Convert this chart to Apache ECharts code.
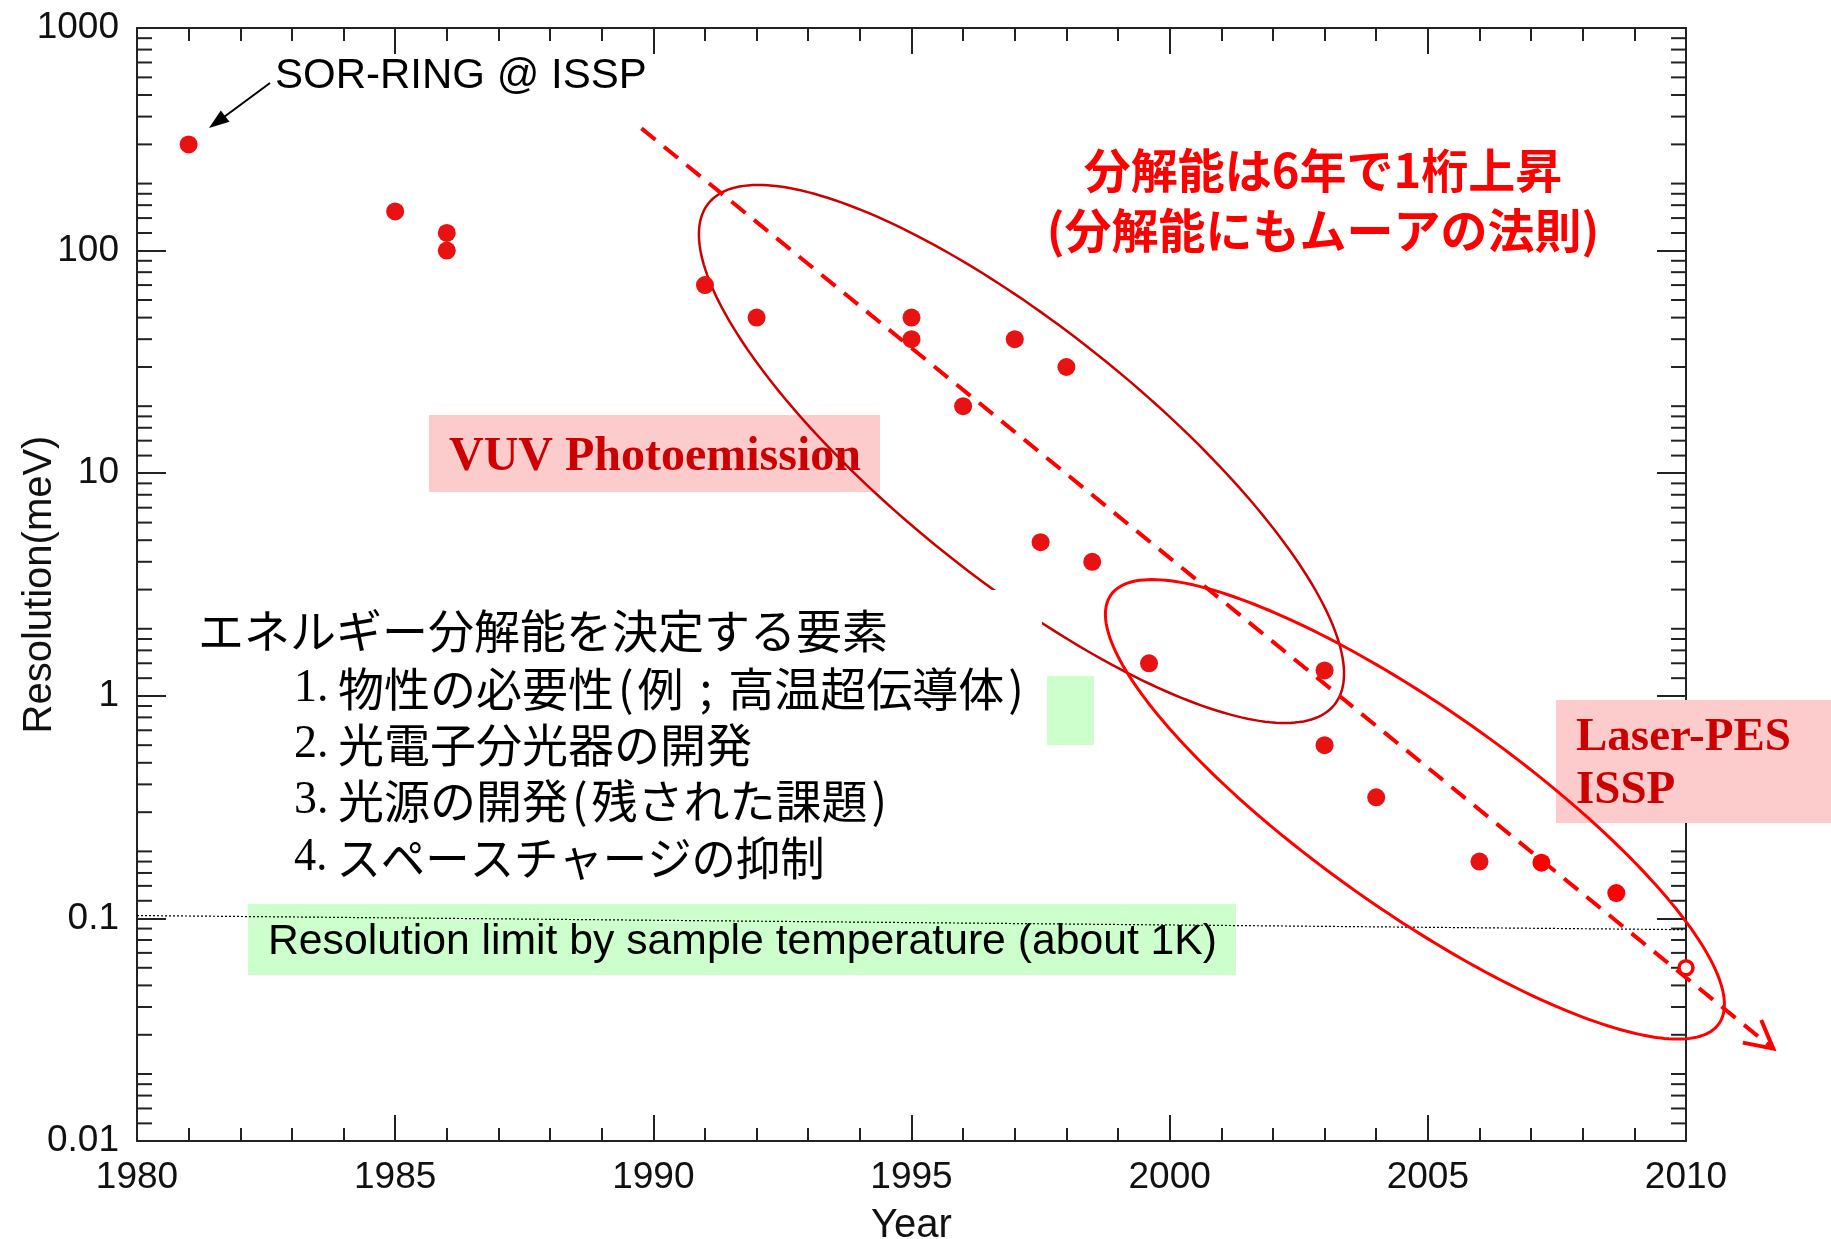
<!DOCTYPE html>
<html><head><meta charset="utf-8">
<script src="https://cdn.jsdelivr.net/npm/echarts@6/dist/echarts.min.js"></script>
<style>html,body{margin:0;padding:0;background:#fff}#c{width:1831px;height:1239px}</style>
</head><body><div id="c"></div>
<script>
// ---- data ----
const years      = [1981, 1985, 1986, 1986, 1991, 1992, 1995, 1995, 1996, 1997, 1997.5, 1998, 1998.5, 1999.6, 2003, 2003, 2004, 2006];
const resolution = [300,  150,  120,  100,  70,   50,   50,   40,   20,   40,   4.9,    30,   4,      1.4,    1.3,  0.6,  0.35, 0.18];
const laserYears = [2007.2, 2008.65];
const laserRes   = [0.178, 0.13];
const futureYears = [2010];
const futureRes   = [0.06];
const trendYears = [1989.77, 2011.69];
const trendRes   = [354, 0.026];
const limitYears = [1980, 2010];
const limitRes   = [0.103, 0.089];
const ellipseCenterYears = [1997.13, 2004.75];
const ellipseCenterRes   = [12.2, 0.309];
const xTickYears = [1980, 1985, 1990, 1995, 2000, 2005, 2010];
const yTickLabels = ['0.01', '0.1', '1', '10', '100', '1000'];
const minorFactors = [1.2, 1.4, 1.6, 1.8, 2, 3, 4, 5, 6, 7, 8, 9];
const minorDecades = [0.01, 0.1, 1, 10, 100];

// ---- styles ----
const ellipseStyles = [
  {a: 401, b: 125, rot: 38.7, color: '#cc0000', width: 2.5},
  {a: 372, b: 101, rot: 35.2, color: '#ff0000', width: 3}
];
const sans = '"Liberation Sans", Arial, sans-serif';
const serif = '"Liberation Serif", "Times New Roman", serif';
const cjk = '"Noto Sans CJK JP", sans-serif';

const yMinor = [];
minorDecades.forEach(d => minorFactors.forEach(f => yMinor.push([1980, +(d * f).toPrecision(3)])));

const chart = echarts.init(document.getElementById('c'), null, {renderer: 'canvas'});

function txt(text, x, y, size, color, family, weight, align, z, rich, sx) {
  const st = {text, x, y, fontSize: size, fontFamily: family, fontWeight: weight || 'normal',
    fill: color, align: align || 'left', verticalAlign: 'middle', textAlign: align || 'left', textVerticalAlign: 'middle'};
  if (rich) st.rich = rich;
  const el = {type: 'text', z: z, style: st, silent: true};
  if (sx) { el.scaleX = sx; el.originX = x; el.originY = y; }
  return el;
}
function box(x, y, w, h, color, z) {
  return {type: 'rect', z: z, shape: {x, y, width: w, height: h}, style: {fill: color}, silent: true};
}
const listRich = {
  n: {fontFamily: serif, fontSize: 46, fill: '#000', width: 44},
  p: {fontFamily: cjk, fontSize: 46, fill: '#000', padding: [0, 4]},
  s: {fontFamily: cjk, fontSize: 46, fill: '#000', padding: [0, 16]}
};

const axisCommon = {
  axisLine: {show: true, onZero: false, lineStyle: {color: '#222', width: 2}},
  splitLine: {show: false}
};

const option = {
  backgroundColor: '#fff',
  animation: false,
  grid: {left: 137, right: 145, top: 28, bottom: 98, outerBoundsMode: 'none', containLabel: false},
  xAxis: [
    Object.assign({
      type: 'value', min: 1980, max: 2010, interval: 5, position: 'bottom',
      axisTick: {show: true, inside: true, length: 26, lineStyle: {color: '#222', width: 2}},
      minorTick: {show: true, splitNumber: 5, length: 13, lineStyle: {color: '#222', width: 2}},
      axisLabel: {show: true, fontSize: 37, fontFamily: sans, color: '#111', margin: 18,
        formatter: v => xTickYears.indexOf(v) >= 0 ? String(v) : ''},
      name: 'Year', nameLocation: 'middle', nameGap: 65, nameMoveOverlap: false,
      nameTextStyle: {fontSize: 40, fontFamily: sans, color: '#111'}
    }, axisCommon),
    Object.assign({
      type: 'value', min: 1980, max: 2010, interval: 5, position: 'top',
      axisTick: {show: true, inside: true, length: 26, lineStyle: {color: '#222', width: 2}},
      minorTick: {show: true, splitNumber: 5, length: 13, lineStyle: {color: '#222', width: 2}},
      axisLabel: {show: false}
    }, axisCommon)
  ],
  yAxis: [
    Object.assign({
      type: 'log', logBase: 10, min: 0.01, max: 1000, position: 'left',
      axisTick: {show: true, inside: true, length: 29, lineStyle: {color: '#222', width: 2}},
      minorTick: {show: false},
      axisLabel: {show: true, fontSize: 37, fontFamily: sans, color: '#111', margin: 18,
        formatter: v => { const s = String(+(+v).toPrecision(2)); return yTickLabels.indexOf(s) >= 0 ? s : ''; }},
      name: 'Resolution(meV)', nameLocation: 'middle', nameGap: 77, nameRotate: 90, nameMoveOverlap: false,
      nameTextStyle: {fontSize: 40, fontFamily: sans, color: '#111'}
    }, axisCommon),
    Object.assign({
      type: 'log', logBase: 10, min: 0.01, max: 1000, position: 'right',
      axisTick: {show: true, inside: true, length: 29, lineStyle: {color: '#222', width: 2}},
      minorTick: {show: false},
      axisLabel: {show: false}
    }, axisCommon)
  ],
  graphic: [
    box(429, 415, 451, 77, '#fccccc', 1),
    txt('VUV Photoemission', 655, 458, 48, '#cc0000', serif, 'bold', 'center', 2),
    box(1556, 700, 275, 123, '#fccccc', 25),
    txt('Laser-PES', 1576, 738, 47, '#cc0000', serif, 'bold', 'left', 26),
    txt('ISSP', 1576, 791, 47, '#cc0000', serif, 'bold', 'left', 26),
    box(1047, 676, 47, 69, '#ccffcc', 1),
    box(248, 904, 988, 71, '#ccffcc', 1),
    txt('Resolution limit by sample temperature (about 1K)', 268, 942, 42.7, '#000', sans, 'normal', 'left', 2),
    box(185, 590, 857, 290, '#ffffff', 40),
    txt('エネルギー分解能を決定する要素', 198, 631, 46, '#000', cjk, 'normal', 'left', 41),
    txt('{n|1.}物性の必要性{p|(}例{s|;}高温超伝導体{p|)}', 294, 689, 46, '#000', cjk, 'normal', 'left', 41, listRich),
    txt('{n|2.}光電子分光器の開発', 294, 745, 46, '#000', cjk, 'normal', 'left', 41, listRich),
    txt('{n|3.}光源の開発{p|(}残された課題{p|)}', 294, 801, 46, '#000', cjk, 'normal', 'left', 41, listRich),
    txt('{n|4.}スペースチャージの抑制', 294, 858, 46, '#000', cjk, 'normal', 'left', 41, listRich, 0.965),
    txt('分解能は6年で1桁上昇', 1323, 170, 47, '#ff0000', cjk, 'bold', 'center', 41),
    txt('(分解能にもムーアの法則)', 1323, 230, 47, '#ff0000', cjk, 'bold', 'center', 41),
    txt('SOR-RING @ ISSP', 275, 76, 42, '#000', sans, 'normal', 'left', 41),
    {type: 'line', z: 41, shape: {x1: 270, y1: 83, x2: 224, y2: 117}, style: {stroke: '#000', lineWidth: 2}, silent: true},
    {type: 'polygon', z: 41, shape: {points: [[209, 128], [229.5, 121.8], [220.8, 110.4]]}, style: {fill: '#000'}, silent: true}
  ],
  series: [
    {
      type: 'custom', name: 'yMinorTicks', z: 2, silent: true, clip: false,
      data: yMinor,
      renderItem: (params, api) => {
        const p = api.coord([api.value(0), api.value(1)]);
        const cs = params.coordSys;
        const st = {stroke: '#222', lineWidth: 2};
        return {type: 'group', children: [
          {type: 'line', shape: {x1: cs.x, y1: p[1], x2: cs.x + 15, y2: p[1]}, style: st},
          {type: 'line', shape: {x1: cs.x + cs.width - 15, y1: p[1], x2: cs.x + cs.width, y2: p[1]}, style: st}
        ]};
      }
    },
    {
      type: 'line', name: 'limit', z: 3, silent: true, symbol: 'none',
      data: limitYears.map((y, i) => [y, limitRes[i]]),
      lineStyle: {color: '#000', width: 1.2, type: [2, 2]}
    },
    {
      type: 'custom', name: 'ellipses', z: 30, silent: true, clip: false,
      data: ellipseCenterYears.map((y, i) => [y, ellipseCenterRes[i]]),
      renderItem: (params, api) => {
        const c = api.coord([api.value(0), api.value(1)]);
        const s = ellipseStyles[params.dataIndex];
        const th = s.rot * Math.PI / 180;
        const pts = [];
        for (let i = 0; i <= 240; i++) {
          const t = i / 240 * 2 * Math.PI;
          const ex = s.a * Math.cos(t), ey = s.b * Math.sin(t);
          pts.push([c[0] + ex * Math.cos(th) - ey * Math.sin(th), c[1] + ex * Math.sin(th) + ey * Math.cos(th)]);
        }
        return {type: 'polyline', shape: {points: pts}, style: {stroke: s.color, lineWidth: s.width, fill: 'none'}};
      }
    },
    {
      type: 'custom', name: 'trend', z: 50, silent: true, clip: false,
      data: [[trendYears[0], trendRes[0], trendYears[1], trendRes[1]]],
      encode: {x: [0, 2], y: [1, 3]},
      renderItem: (params, api) => {
        const p1 = api.coord([api.value(0), api.value(1)]);
        const p2 = api.coord([api.value(2), api.value(3)]);
        const dx = p2[0] - p1[0], dy = p2[1] - p1[1], L = Math.hypot(dx, dy);
        const bx = -dx / L, by = -dy / L, ang = 28 * Math.PI / 180, hl = 31;
        const arm = s => [p2[0] + hl * (bx * Math.cos(s * ang) - by * Math.sin(s * ang)),
                          p2[1] + hl * (bx * Math.sin(s * ang) + by * Math.cos(s * ang))];
        return {type: 'group', children: [
          {type: 'line', shape: {x1: p1[0], y1: p1[1], x2: p2[0], y2: p2[1]},
            style: {stroke: '#ff0000', lineWidth: 4, lineDash: [18, 11]}},
          {type: 'polyline', shape: {points: [arm(1), p2, arm(-1)]},
            style: {stroke: '#ff0000', lineWidth: 4, fill: 'none'}}
        ]};
      }
    },
    {
      type: 'scatter', name: 'measured', z: 60, symbol: 'circle', symbolSize: 18,
      data: years.map((y, i) => [y, resolution[i]]),
      itemStyle: {color: '#e81212', opacity: 1}
    },
    {
      type: 'scatter', name: 'laser', z: 60, symbol: 'circle', symbolSize: 18,
      data: laserYears.map((y, i) => [y, laserRes[i]]),
      itemStyle: {color: '#ff0000', opacity: 1}
    },
    {
      type: 'scatter', name: 'future', z: 60, symbol: 'circle', symbolSize: 14,
      data: futureYears.map((y, i) => [y, futureRes[i]]),
      itemStyle: {color: '#ffffff', borderColor: '#ff0000', borderWidth: 3.5, opacity: 1}
    }
  ]
};
chart.setOption(option);
</script>
</body></html>
